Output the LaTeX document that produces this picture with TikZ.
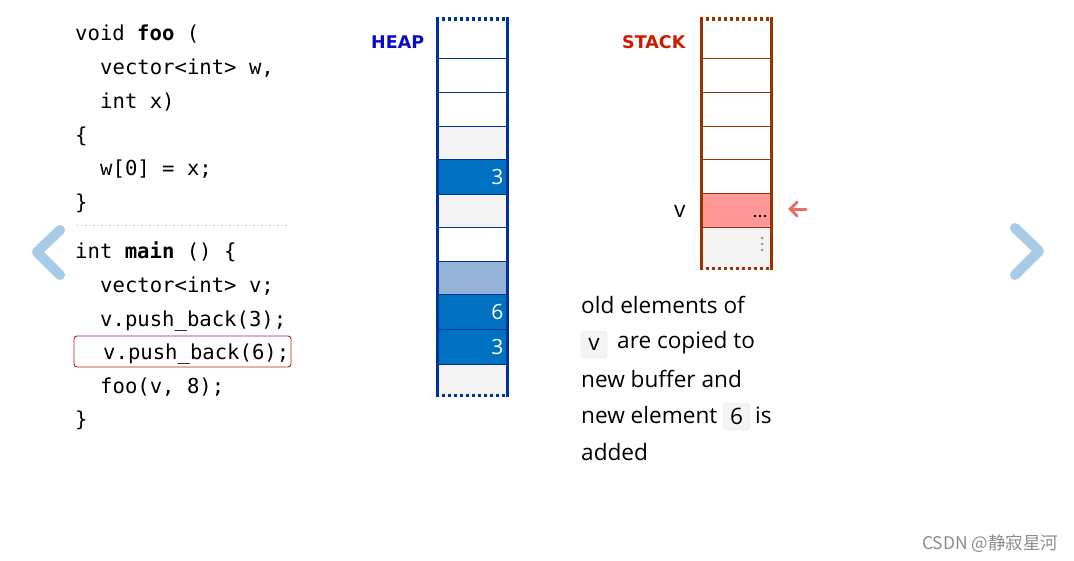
\documentclass[tikz,border=0pt]{standalone}
\usepackage{fontspec}
\setmainfont{Open Sans}
\setmonofont{DejaVu Sans Mono}
\newfontfamily\labfont{DejaVu Sans}
\newfontfamily\cjk{Noto Sans CJK SC}
\usetikzlibrary{arrows.meta}
\definecolor{heapb}{HTML}{003399}
\definecolor{stackb}{HTML}{993300}
\definecolor{cellgray}{HTML}{F4F4F4}
\definecolor{cellblue}{HTML}{0070C0}
\definecolor{cellpale}{HTML}{95B3D7}
\definecolor{cellpink}{HTML}{FF9999}
\definecolor{chevc}{HTML}{A8CCE8}
\definecolor{boxred}{HTML}{B22222}
\definecolor{ptrc}{HTML}{E57068}
\definecolor{badgeb}{HTML}{DDDDDD}
\definecolor{heaplabc}{HTML}{0A0ACC}
\definecolor{stacklabc}{HTML}{CC1A00}
\tikzset{
  code/.style={anchor=base west, inner sep=0, font=\ttfamily\fontsize{20.6}{24}\selectfont},
  prose/.style={anchor=base west, inner sep=0, font=\fontsize{22.6}{26}\selectfont, text=black},
  hcell/.style={draw=none, minimum width=71pt, inner sep=0, text width=62pt, align=right, font=\fontsize{21}{24}\selectfont, text=white},
  scell/.style={draw=none, minimum width=70pt, inner sep=0},
  hsep/.style={heapb, line width=0.9pt},
  ssep/.style={stackb, line width=0.9pt},
  side/.style={line width=3pt},
  dotedge/.style={line width=3.5pt, dash pattern=on 3pt off 3pt},
  chev/.style={chevc, line width=10pt, line cap=round, line join=round},
  badge/.style={draw=badgeb, fill=cellgray, rounded corners=3pt, minimum width=26pt, minimum height=26pt, inner sep=0, font=\fontsize{22.6}{26}\selectfont},
  lab/.style={anchor=base west, inner sep=0, font=\labfont\bfseries\fontsize{17.5}{20}\selectfont},
}
\begin{document}
\begin{tikzpicture}[x=1pt,y=-1pt]
\useasboundingbox (0,0) rectangle (1074,560);
% chevrons
\draw[chev] (60,230) -- (37,252) -- (60,275);
\draw[chev] (1015,228) -- (1039,251) -- (1015,275);
% code
\node[code] (c1) at (75,40) {void \textbf{foo} (};
\node[code] (c2) at (100,74) {vector<int> w,};
\node[code] (c3) at (100,108) {int x)};
\node[code] (c4) at (75,142) {\{};
\node[code] (c5) at (100,175) {w[0] = x;};
\node[code] (c6) at (75,209) {\}};
\coordinate (sepL) at (77,225);
\coordinate (sepR) at (288,225);
\draw[black!35, line width=1pt, dash pattern=on 1pt off 3pt] (sepL) -- (sepR);
\node[code] (m1) at (75,258) {int \textbf{main} () \{};
\node[code] (m2) at (100,292) {vector<int> v;};
\node[code] (m3) at (100,326) {v.push\_back(3);};
\node[code] (m4) at (103,359) {v.push\_back(6);};
\node[code] (m5) at (100,393) {foo(v, 8);};
\node[code] (m6) at (75,426) {\}};
\draw[boxred, line width=0.9pt, rounded corners=3pt] (74,336) rectangle (291,367);
% heap
\node[lab, text=heaplabc] (heaplab) at (371,48) {HEAP};
\node[hcell, fill=white, minimum height=41pt] (h1) at (472.5,37.5) {};
\node[hcell, fill=white, minimum height=34pt] (h2) at (472.5,75) {};
\node[hcell, fill=white, minimum height=34pt] (h3) at (472.5,109) {};
\node[hcell, fill=cellgray, minimum height=33pt] (h4) at (472.5,142.5) {};
\node[hcell, fill=cellblue, minimum height=35pt] (h5) at (472.5,176.5) {3};
\node[hcell, fill=cellgray, minimum height=33pt] (h6) at (472.5,210.5) {};
\node[hcell, fill=white, minimum height=34pt] (h7) at (472.5,244) {};
\node[hcell, fill=cellpale, minimum height=33pt] (h8) at (472.5,277.5) {};
\node[hcell, fill=cellblue, minimum height=35pt] (h9) at (472.5,311.5) {6};
\node[hcell, fill=cellblue, minimum height=35pt] (h10) at (472.5,346.5) {3};
\node[hcell, fill=cellgray, minimum height=33pt] (h11) at (472.5,380.5) {};
\foreach \i in {1,...,10} \draw[hsep] (h\i.south west) -- (h\i.south east);
\draw[heapb, side] (437.5,17) -- (437.5,397);
\draw[heapb, side] (507.5,17) -- (507.5,397);
\draw[heapb, dotedge] (436,18.75) -- (509,18.75);
\draw[heapb, dotedge] (436,395.25) -- (509,395.25);
% stack
\node[lab, text=stacklabc] (stacklab) at (622,48) {STACK};
\node[scell, fill=white, minimum height=41pt] (s1) at (736.5,37.5) {};
\node[scell, fill=white, minimum height=34pt] (s2) at (736.5,75) {};
\node[scell, fill=white, minimum height=34pt] (s3) at (736.5,109) {};
\node[scell, fill=white, minimum height=33pt] (s4) at (736.5,142.5) {};
\node[scell, fill=white, minimum height=34pt] (s5) at (736.5,176) {};
\node[scell, fill=cellpink, minimum height=34pt] (s6) at (736.5,210) {};
\node[scell, fill=cellgray, minimum height=43pt] (s7) at (736.5,248.5) {};
\foreach \i in {1,...,6} \draw[ssep] (s\i.south west) -- (s\i.south east);
\draw[stackb, side] (701.5,17) -- (701.5,270);
\draw[stackb, side] (771.5,17) -- (771.5,270);
\draw[stackb, dotedge] (700,18.75) -- (773,18.75);
\draw[stackb, dotedge] (700,268.25) -- (773,268.25);
\foreach \xx in {755,760,765} \fill[black] (\xx,216) circle (1.3pt);
\foreach \yy in {238,244,250} \fill[black!40] (762,\yy) circle (1.5pt);
\node[anchor=base west, inner sep=0, font=\fontsize{22.6}{26}\selectfont] (vlab) at (674,217) {v};
\coordinate (ptrtail) at (806,209);
\coordinate (ptrtip) at (788,209);
\draw[ptrc, line width=3pt, line cap=round, -{Straight Barb[length=7pt,width=14pt,line cap=round]}] (ptrtail) -- (ptrtip);
% explanation
\node[prose] (t1) at (581,313) {old elements of};
\node[badge] (b1) at (594,344.5) {v};
\node[prose] (t2) at (617,348) {are copied to};
\node[prose] (t3) at (581,387) {new buffer and};
\node[prose] (t4) at (581,423) {new element};
\node[badge] (b2) at (736.5,416.5) {6};
\node[prose] (t5) at (755,423) {is};
\node[prose] (t6) at (581,460) {added};
% watermark
\node[anchor=base west, inner sep=0, text=black!45, font=\cjk\fontsize{17.5}{20}\selectfont] (wm) at (922,549) {CSDN @静寂星河};
\end{tikzpicture}
\end{document}
